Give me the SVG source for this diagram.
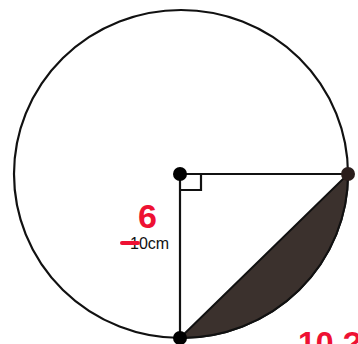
<svg xmlns="http://www.w3.org/2000/svg" width="358" height="344" viewBox="0 0 358 344">
<style>
.line{stroke:#111;stroke-width:2.2;fill:none}
.red{fill:#ee1133;font-family:"Liberation Sans",Arial,sans-serif;font-weight:bold}
</style>
<rect width="358" height="344" fill="#fff"/>
<g id="circle">
<ellipse cx="181" cy="174" rx="167" ry="164" class="line"/>
</g>
<g id="segment">
<path d="M180,338 L348,174 A167,164 0 0 1 181,338 Z" fill="#3b312d" stroke="#111" stroke-width="2"/>
</g>
<g id="connectors">
<line x1="180" y1="174" x2="348" y2="174" class="line"/>
<line x1="180" y1="174" x2="180" y2="338" class="line"/>
<path d="M181,190 H201 V175" class="line" stroke-width="1.8"/>
</g>
<g id="center"><circle cx="180" cy="174" r="7" fill="#000"/></g>
<g id="right"><circle cx="348" cy="174" r="7" fill="#2a1e1c"/></g>
<g id="bottom"><circle cx="180" cy="338" r="7" fill="#000"/></g>
<g id="labels">
<text x="130" y="249" font-family="Liberation Sans,Arial,sans-serif" font-size="16" fill="#111">10cm</text>
<line x1="122" y1="243" x2="138" y2="243" stroke="#ee1133" stroke-width="4" stroke-linecap="round"/>
<text x="138" y="228" class="red" font-size="34">6</text>
<text x="298" y="354" class="red" font-size="32">10 ?</text>
</g>
</svg>
